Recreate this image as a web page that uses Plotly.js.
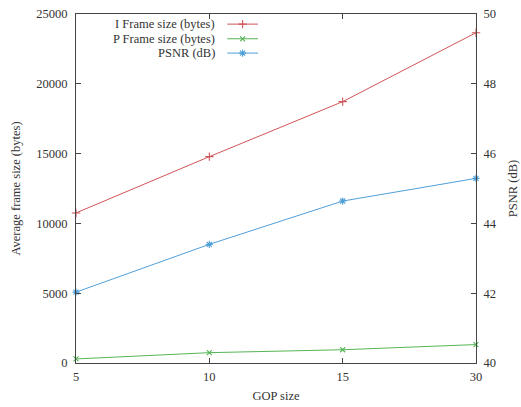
<!DOCTYPE html>
<html>
<head>
<meta charset="utf-8">
<script src="https://cdn.plot.ly/plotly-3.0.1.min.js"></script>
<style>html,body{margin:0;padding:0;background:#fff;}#chart{width:521px;height:407px;}</style>
</head>
<body>
<div id="chart"></div>
<script>
// Data
const gopSizes = ['5', '10', '15', '30'];
const iFrameSize = [10750, 14780, 18720, 23660];
const pFrameSize = [290, 740, 950, 1320];
const psnr = [42.03, 43.40, 44.64, 45.29];
const seriesNames = ['I Frame size (bytes)', 'P Frame size (bytes)', 'PSNR (dB)'];
const leftTicks = [0, 5000, 10000, 15000, 20000, 25000];
const rightTicks = [40, 42, 44, 46, 48, 50];

const colors = ['#cf5558', '#55b555', '#4f9fd8'];
const symbols = ['cross-thin', 'x-thin', 'asterisk'];
const font = {family: '"Liberation Serif", serif', size: 12.5, color: '#333'};

function mk(i, size) { return {symbol: symbols[i], size: size, color: colors[i], line: {color: colors[i], width: 1.1}}; }

const traces = [
  {x: gopSizes, y: iFrameSize, name: seriesNames[0], type: 'scatter', mode: 'lines+markers',
   line: {color: colors[0], width: 1}, marker: mk(0, 6), xaxis: 'x', yaxis: 'y', cliponaxis: false},
  {x: gopSizes, y: pFrameSize, name: seriesNames[1], type: 'scatter', mode: 'lines+markers',
   line: {color: colors[1], width: 1}, marker: mk(1, 5), xaxis: 'x', yaxis: 'y', cliponaxis: false},
  {x: gopSizes, y: psnr, name: seriesNames[2], type: 'scatter', mode: 'lines+markers',
   line: {color: colors[2], width: 1}, marker: mk(2, 6), xaxis: 'x', yaxis: 'y2', cliponaxis: false}
];

// Custom legend (text left, sample right) on a hidden helper axis
const legRows = [0.971, 0.929, 0.888];
const legX0 = 0.378, legX1 = 0.455, legTextX = 0.353;
const annotations = [];
seriesNames.forEach((n, i) => {
  traces.push({x: [legX0, (legX0 + legX1) / 2, legX1], y: [legRows[i], legRows[i], legRows[i]],
    type: 'scatter', mode: 'lines+markers', showlegend: false, hoverinfo: 'skip',
    line: {color: colors[i], width: 1},
    marker: mk(i, i === 1 ? 5 : 6),
    selectedpoints: [1], selected: {marker: {opacity: 1}}, unselected: {marker: {opacity: 0}},
    xaxis: 'x3', yaxis: 'y3'});
  annotations.push({xref: 'paper', yref: 'paper', x: legTextX, y: legRows[i], xanchor: 'right', yanchor: 'middle',
    text: n, showarrow: false, font: font});
});

const axisCommon = {showgrid: false, zeroline: false, showline: true, linecolor: '#444', linewidth: 1,
  ticks: 'inside', ticklen: 5, tickcolor: '#444', tickfont: font};

const layout = {
  width: 521, height: 407,
  margin: {l: 76, r: 45, t: 14, b: 44},
  paper_bgcolor: '#fff', plot_bgcolor: 'rgba(0,0,0,0)',
  font: font,
  showlegend: false,
  xaxis: Object.assign({}, axisCommon, {type: 'category', categoryorder: 'array', categoryarray: gopSizes,
    range: [0, 3], mirror: 'ticks', title: {text: 'GOP size', font: font, standoff: 8}, ticklabelstandoff: 2}),
  yaxis: Object.assign({}, axisCommon, {range: [0, 25000], tickvals: leftTicks, ticktext: leftTicks.map(String),
    title: {text: 'Average frame size (bytes)', font: font, standoff: 12}, ticklabelstandoff: 5}),
  yaxis2: Object.assign({}, axisCommon, {overlaying: 'y', side: 'right', range: [40, 50], tickvals: rightTicks,
    ticktext: rightTicks.map(String), title: {text: 'PSNR (dB)', font: font, standoff: 12}, ticklabelstandoff: 4}),
  xaxis3: {domain: [0, 1], range: [0, 1], visible: false, anchor: 'y3', fixedrange: true, overlaying: 'x'},
  yaxis3: {domain: [0, 1], range: [0, 1], visible: false, anchor: 'x3', fixedrange: true, overlaying: 'y'},
  annotations: annotations
};

Plotly.newPlot('chart', traces, layout, {displayModeBar: false, staticPlot: true});
</script>
</body>
</html>
